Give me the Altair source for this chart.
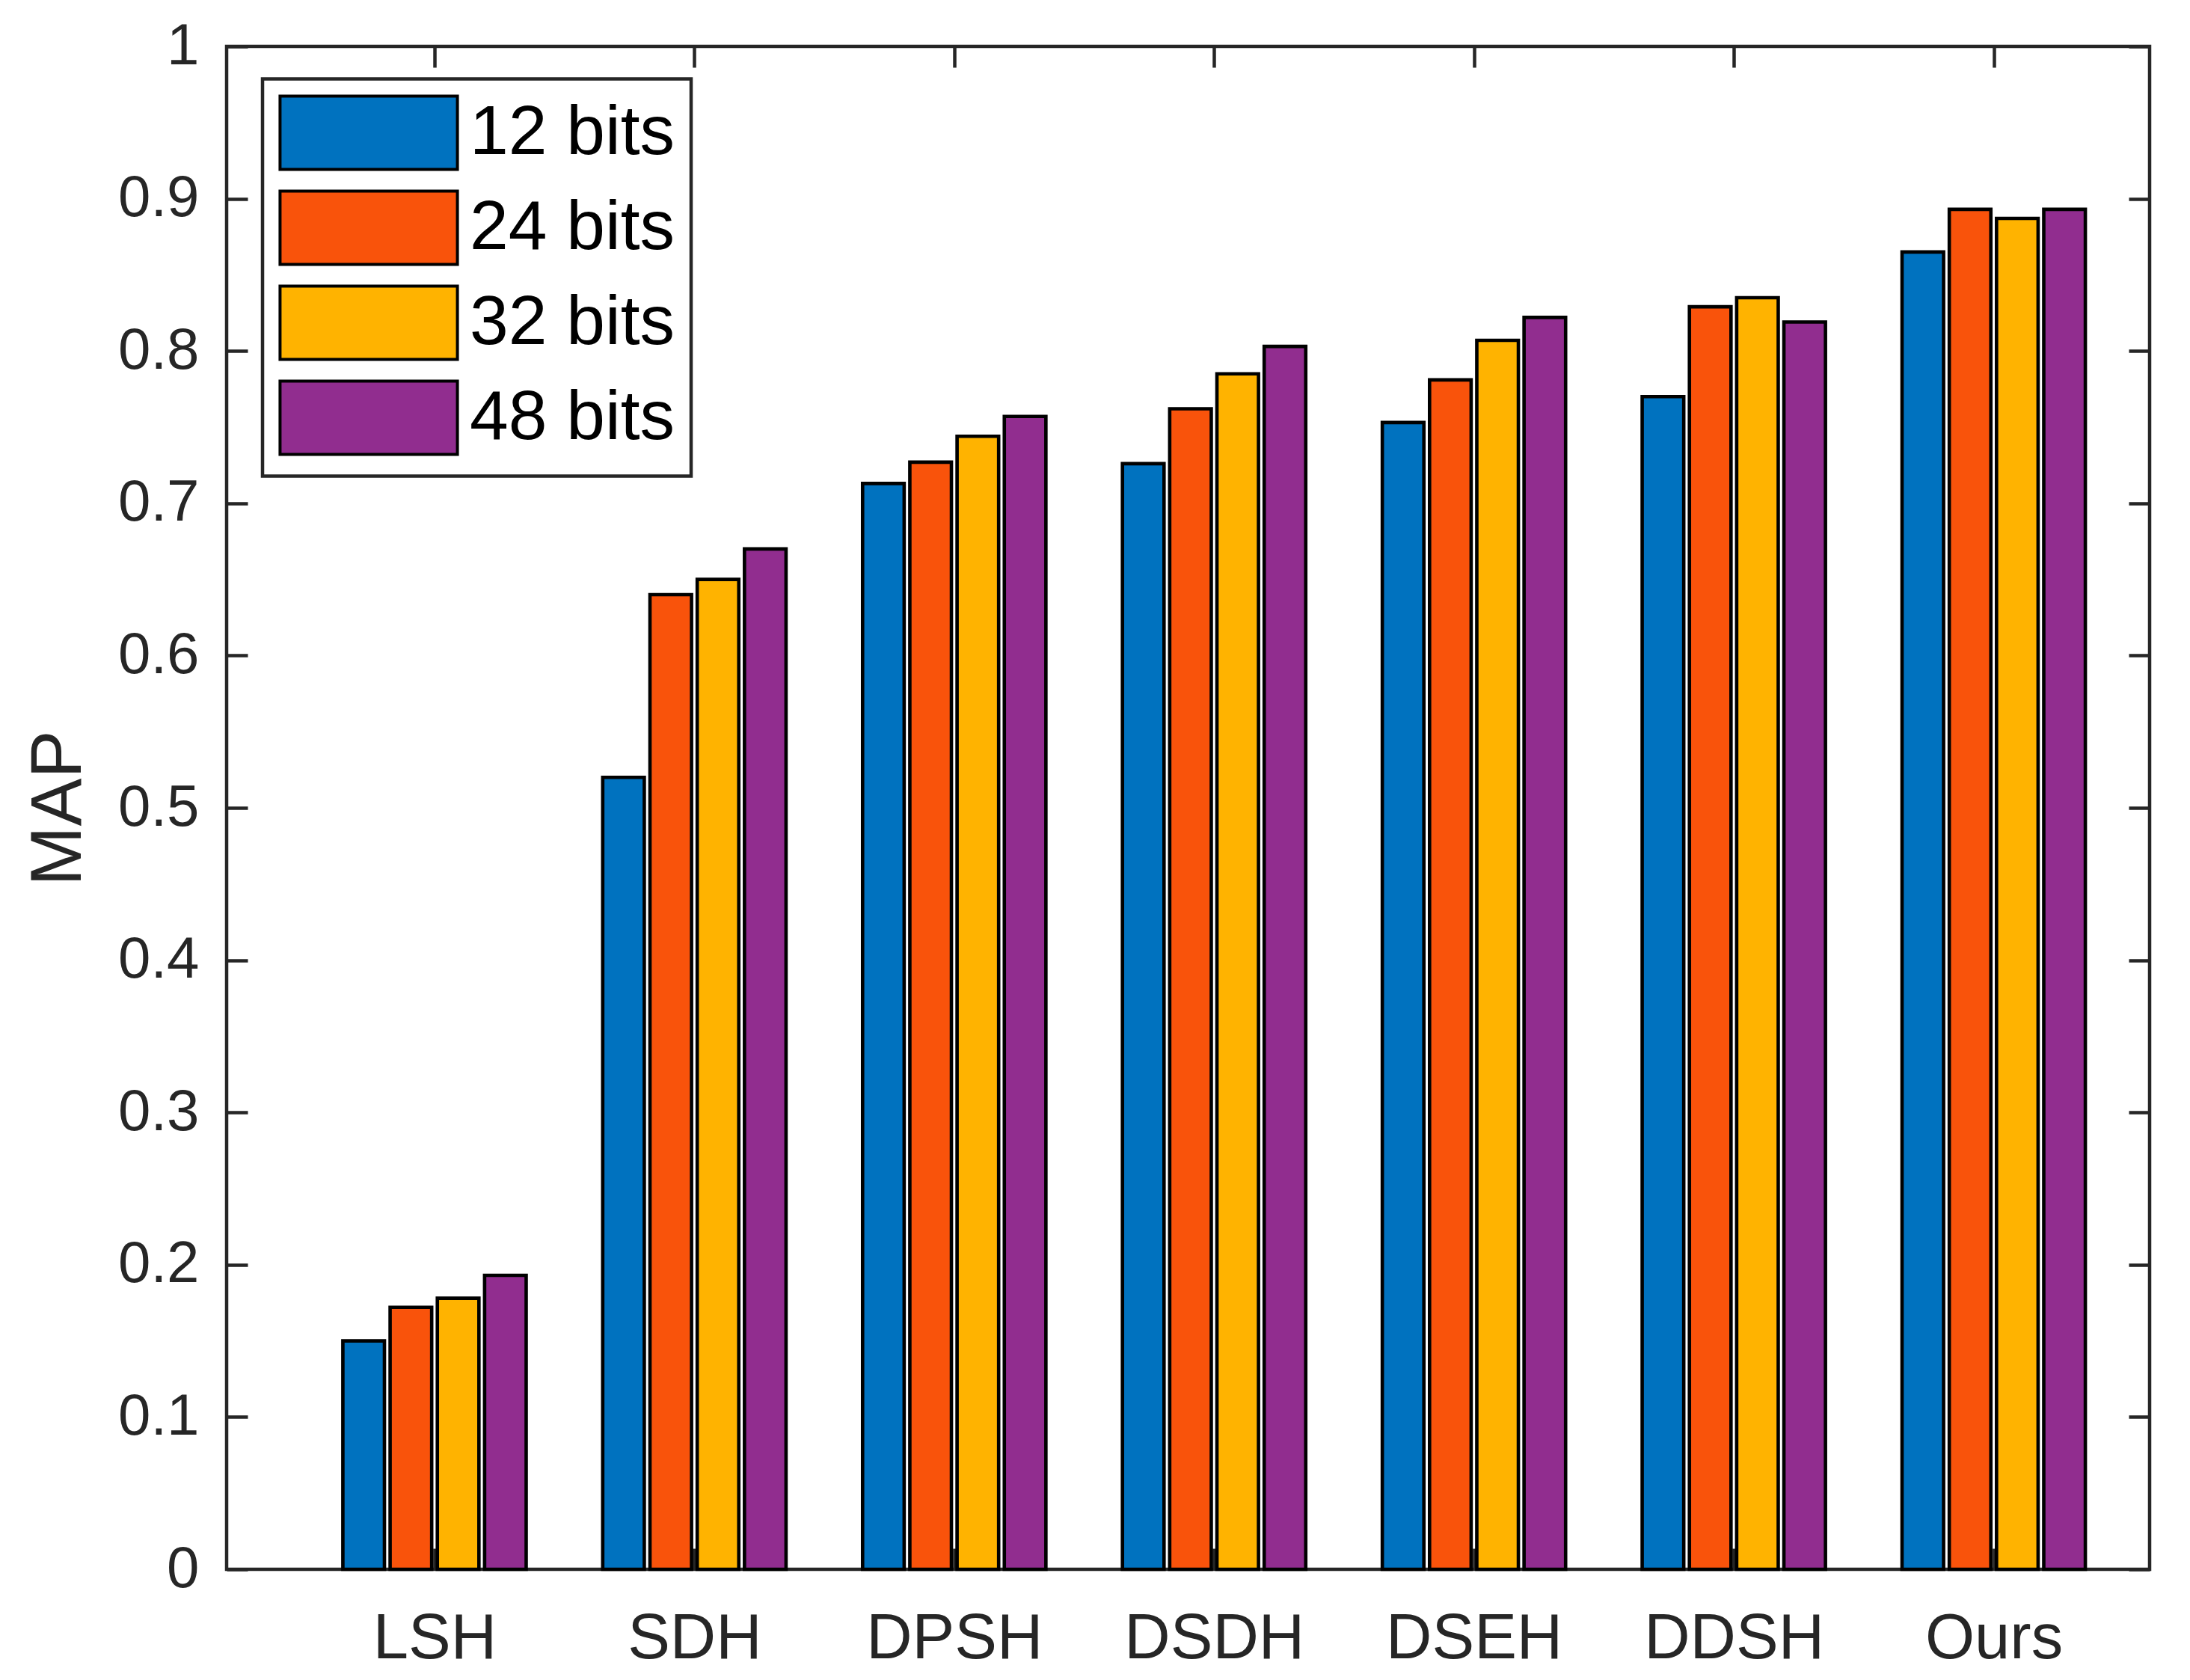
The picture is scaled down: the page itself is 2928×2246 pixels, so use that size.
import json
import pandas as pd
import altair as alt

# ---------------- data ----------------
methods = ["LSH", "SDH", "DPSH", "DSDH", "DSEH", "DDSH", "Ours"]
series = ["12 bits", "24 bits", "32 bits", "48 bits"]
map_12 = [0.150, 0.520, 0.713, 0.726, 0.753, 0.770, 0.865]
map_24 = [0.172, 0.640, 0.727, 0.762, 0.781, 0.829, 0.893]
map_32 = [0.178, 0.650, 0.744, 0.785, 0.807, 0.835, 0.887]
map_48 = [0.193, 0.670, 0.757, 0.803, 0.822, 0.819, 0.893]
colors = ["#0072BF", "#F9530B", "#FFB300", "#912D8F"]
y_ticks = [0, 0.1, 0.2, 0.3, 0.4, 0.5, 0.6, 0.7, 0.8, 0.9, 1]
x_ticks = [1, 2, 3, 4, 5, 6, 7]

values = [map_12, map_24, map_32, map_48]
rows = []
for si, (name, vals) in enumerate(zip(series, values)):
    for gi, (m, v) in enumerate(zip(methods, vals)):
        rows.append({"method": m, "bits": name, "value": v, "group": gi + 1, "slot": si})
df = pd.DataFrame(rows)

FONT = "Liberation Sans"
AX = "#262626"
label_expr = json.dumps(methods) + "[round(datum.value) - 1]"

xscale = alt.Scale(domain=[0.2, 7.6], nice=False, zero=False)
yscale = alt.Scale(domain=[0, 1], nice=False, zero=True)

base = alt.Chart(df).transform_calculate(
    xc="datum.group + (datum.slot - 1.5) * 0.1818",
    base="0",
).transform_calculate(
    x1="datum.xc - 0.08", x2="datum.xc + 0.08"
)

bars = base.mark_bar(stroke="black", strokeWidth=4.6).encode(
    x=alt.X("x1:Q", scale=xscale,
            axis=alt.Axis(orient="bottom", values=x_ticks, labelExpr=label_expr,
                          ticks=False, tickSize=0, domain=False, grid=False,
                          labelFontSize=85, labelPadding=51, labelOverlap=False,
                          labelFlush=False, labelLimit=1000, title=None)),
    x2="x2:Q",
    y=alt.Y("value:Q", scale=yscale,
            axis=alt.Axis(orient="left", values=y_ticks, format="~g",
                          ticks=False, tickSize=0, domain=False, grid=False,
                          labelFontSize=78, labelPadding=37, labelOverlap=False,
                          labelFlush=False, labelLimit=1000,
                          title="MAP", titleFontSize=96, titleFontWeight="normal",
                          titlePadding=30)),
    y2="base:Q",
    color=alt.Color("bits:N", scale=alt.Scale(domain=series, range=colors),
                    legend=alt.Legend(title=None, orient="none", legendX=48, legendY=43.5,
                                      padding=21, fillColor="white", strokeColor=AX,
                                      symbolType="M-2.42,-1H2.42V1H-2.42Z", symbolSize=9604,
                                      symbolStrokeColor="black", symbolStrokeWidth=4,
                                      symbolOpacity=1, symbolOffset=70, labelOffset=84,
                                      labelFontSize=93, labelFont=FONT, labelColor="black",
                                      rowPadding=13, labelLimit=600)),
)

tick_axis = dict(labels=False, domain=False, ticks=True, tickSize=28, tickWidth=4.5,
                 tickColor=AX, grid=False, title=None, offset=-28)

ticks_a = base.mark_point(opacity=0).encode(
    x=alt.X("xc:Q", scale=xscale, axis=alt.Axis(orient="top", values=x_ticks, **tick_axis)),
    y=alt.Y("value:Q", scale=yscale, axis=alt.Axis(orient="right", values=y_ticks, **tick_axis)),
)
ticks_b = base.mark_point(opacity=0).encode(
    x=alt.X("xc:Q", scale=xscale, axis=alt.Axis(orient="bottom", values=x_ticks, **tick_axis)),
    y=alt.Y("value:Q", scale=yscale, axis=alt.Axis(orient="left", values=y_ticks, **tick_axis)),
)

chart = alt.layer(ticks_b, ticks_a, bars).resolve_scale(
    x="shared", y="shared"
).resolve_axis(
    x="independent", y="independent"
).properties(
    width=2571, height=2036,
    autosize=alt.AutoSizeParams(type="none"),
    padding={"left": 295, "top": 54, "right": 45, "bottom": 140},
    background="white",
).configure_view(
    stroke=AX, strokeWidth=4.5
).configure_axis(
    labelFont=FONT, titleFont=FONT, labelColor=AX, titleColor=AX
).configure_legend(
    strokeWidth=4.5
)

chart.save("out.html", embed_options={"renderer": "svg", "actions": False})
